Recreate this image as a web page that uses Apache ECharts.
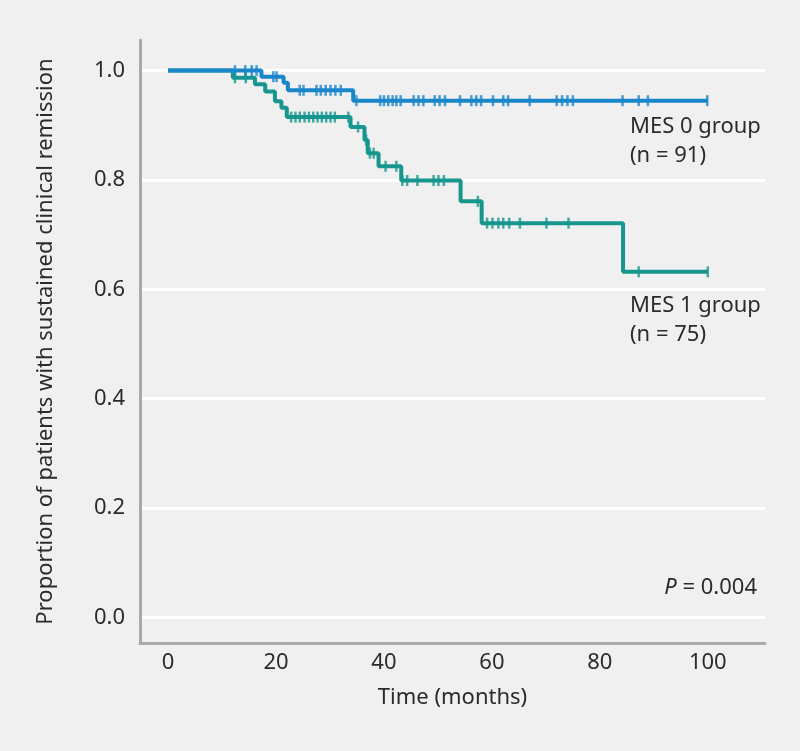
<!DOCTYPE html>
<html><head><meta charset="utf-8">
<script src="https://cdn.jsdelivr.net/npm/echarts@6.0.0/dist/echarts.min.js"></script>
<style>html,body{margin:0;padding:0;background:#f0f0f0}#c{width:800px;height:751px}</style>
</head><body><div id="c"></div>
<script>
// MES 0 group (n = 91): event times and Kaplan-Meier survival
const mes0Times = [0, 17.3, 21.4, 22.2, 34.3, 100];
const mes0Surv  = [1.0, 0.989, 0.978, 0.964, 0.945, 0.945];
const mes0Censor = [12.4, 14.3, 15.5, 16.4, 19.5, 20.1, 24.4, 25.1, 27.5, 28.3, 29.2, 30.1, 31.0, 32.0,
  34.9, 39.3, 40.0, 40.8, 41.6, 42.3, 43.1, 45.5, 46.4, 47.3, 49.4, 50.3, 51.3, 54.1, 56.2, 57.1, 58.0,
  60.2, 62.1, 63.0, 67.0, 72.0, 73.0, 74.0, 75.0, 84.2, 87.2, 88.9, 99.9];

// MES 1 group (n = 75)
const mes1Times = [0, 12.0, 16.1, 18.0, 19.8, 21.0, 22.0, 33.8, 36.4, 37.0, 39.0, 43.2, 54.2, 58.1, 84.3, 100];
const mes1Surv  = [1.0, 0.987, 0.975, 0.962, 0.944, 0.932, 0.915, 0.897, 0.873, 0.849, 0.825, 0.799, 0.761, 0.721, 0.632, 0.632];
const mes1Censor = [12.4, 14.4, 22.8, 23.6, 24.4, 25.3, 26.1, 26.9, 27.7, 28.5, 29.3, 30.1, 30.9, 33.4,
  35.2, 36.7, 37.4, 38.1, 40.3, 42.3, 43.4, 44.3, 46.2, 49.2, 50.1, 51.1, 57.4,
  59.1, 60.1, 61.2, 62.1, 63.2, 65.2, 70.1, 74.2, 87.2, 100.0];

const xTicks = [0, 20, 40, 60, 80, 100];
const yTicks = [0.0, 0.2, 0.4, 0.6, 0.8, 1.0];

const BLUE = '#1a86ca';
const TEAL = '#16968e';

function pairs(t, s) { return t.map((v, i) => [v, s[i]]); }
function survAt(times, surv, t) {
  let v = surv[0];
  for (let i = 0; i < times.length; i++) { if (times[i] <= t) v = surv[i]; }
  return v;
}
function censorPts(c, times, surv) { return c.map(t => [t, survAt(times, surv, t)]); }

const chart = echarts.init(document.getElementById('c'), null, {renderer: 'canvas'});
const FONT = '"Noto Sans", "Open Sans", sans-serif';
const TXT = '#2b2b2b';

chart.setOption({
  animation: false,
  backgroundColor: '#f0f0f0',
  textStyle: {fontFamily: FONT},
  grid: {left: 140, right: 35, top: 40, bottom: 108},
  xAxis: {
    type: 'value', min: -5.2, max: 110.6,
    axisLine: {onZero: false, lineStyle: {color: '#a9a9a9', width: 3}},
    axisTick: {show: false},
    splitLine: {show: false},
    axisLabel: {
      showMinLabel: false, showMaxLabel: false, margin: 9,
      fontSize: 22, color: TXT, fontFamily: FONT,
      formatter: v => xTicks.some(t => Math.abs(t - v) < 1e-6) ? String(Math.round(v)) : ''
    },
    name: 'Time (months)', nameLocation: 'middle', nameGap: 44,
    nameTextStyle: {fontSize: 22, color: TXT, fontFamily: FONT}
  },
  yAxis: {
    type: 'value', min: -0.047, max: 1.056,
    axisLine: {show: true, onZero: false, lineStyle: {color: '#a9a9a9', width: 3}},
    axisTick: {show: false},
    splitLine: {show: true, showMinLine: false, showMaxLine: false, lineStyle: {color: '#ffffff', width: 3}},
    axisLabel: {
      showMinLabel: false, showMaxLabel: false, margin: 15,
      fontSize: 22, color: TXT, fontFamily: FONT,
      formatter: v => yTicks.some(t => Math.abs(t - v) < 1e-6) ? Math.abs(v).toFixed(1) : ''
    },
    name: 'Proportion of patients with sustained clinical remission',
    nameLocation: 'middle', nameRotate: 90, nameGap: 83,
    nameTextStyle: {fontSize: 22, color: TXT, fontFamily: FONT}
  },
  series: [
    {type: 'line', step: 'end', data: pairs(mes1Times, mes1Surv), symbol: 'none',
     lineStyle: {color: TEAL, width: 4}, z: 3},
    {type: 'scatter', data: censorPts(mes1Censor, mes1Times, mes1Surv), symbol: 'rect',
     symbolSize: [2.5, 11], itemStyle: {color: TEAL}, z: 3},
    {type: 'line', step: 'end', data: pairs(mes0Times, mes0Surv), symbol: 'none',
     lineStyle: {color: BLUE, width: 4}, z: 4},
    {type: 'scatter', data: censorPts(mes0Censor, mes0Times, mes0Surv), symbol: 'rect',
     symbolSize: [2.5, 11], itemStyle: {color: BLUE}, z: 4}
  ],
  graphic: [
    {type: 'text', x: 630, y: 112, style: {text: 'MES 0 group\n(n = 91)', font: '22px ' + FONT, fill: TXT, lineHeight: 29, verticalAlign: 'top'}},
    {type: 'text', x: 630, y: 291, style: {text: 'MES 1 group\n(n = 75)', font: '22px ' + FONT, fill: TXT, lineHeight: 29, verticalAlign: 'top'}},
    {type: 'text', x: 757, y: 588, style: {
      text: '{i|P} = 0.004', align: 'right', verticalAlign: 'middle',
      font: '22px ' + FONT, fill: TXT,
      rich: {i: {fontStyle: 'italic', fontSize: 22, fontFamily: FONT, fill: TXT}}
    }}
  ]
});
</script>
</body></html>
